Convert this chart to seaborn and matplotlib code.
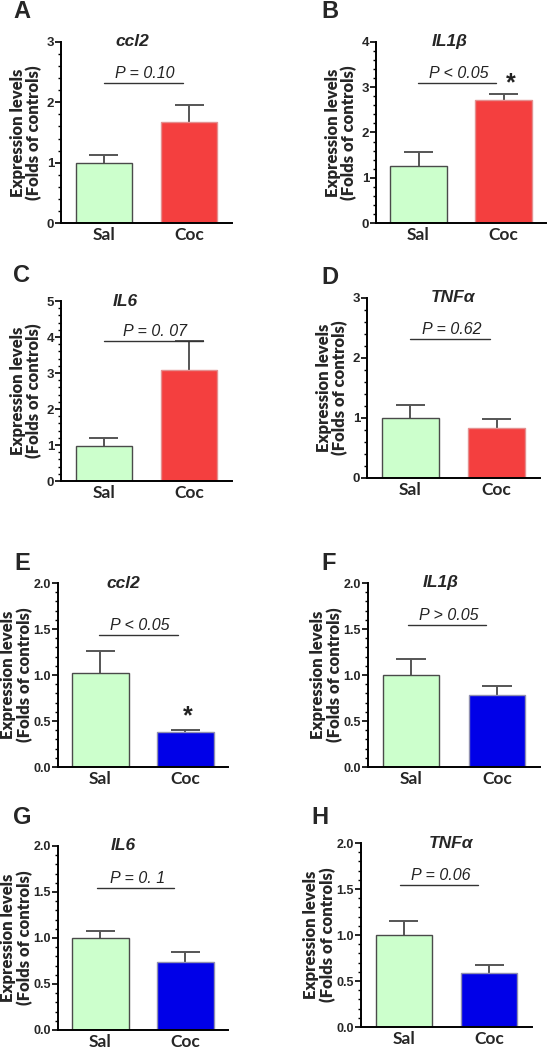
import matplotlib
matplotlib.use("Agg")
import matplotlib.pyplot as plt
from matplotlib.ticker import MultipleLocator, AutoMinorLocator, FormatStrFormatter
import seaborn as sns
import pandas as pd
import numpy as np

sns.set_theme(style="ticks")
plt.rcParams["font.family"] = ["Liberation Sans", "DejaVu Sans"]

# ---------------- data ----------------
groups = ["Sal", "Coc"]
panel_letters = ["A", "B", "C", "D", "E", "F", "G", "H"]
genes = ["ccl2", "IL1β", "IL6", "TNFα", "ccl2", "IL1β", "IL6", "TNFα"]

means_top = [[1.00, 1.67], [1.27, 2.72], [0.98, 3.09], [1.00, 0.84]]
sems_top = [[0.12, 0.29], [0.30, 0.13], [0.22, 0.80], [0.21, 0.15]]
means_bottom = [[1.02, 0.38], [1.00, 0.78], [1.00, 0.74], [1.00, 0.59]]
sems_bottom = [[0.24, 0.025], [0.17, 0.10], [0.08, 0.105], [0.15, 0.08]]

p_texts = ["P = 0.10", "P < 0.05", "P = 0. 07", "P = 0.62",
           "P < 0.05", "P > 0.05", "P = 0. 1", "P = 0.06"]
p_levels = [2.32, 3.09, 3.89, 2.31, 1.43, 1.54, 1.54, 1.54]
stars = [None, (1.08, 3.09), None, None, (1.03, 0.55), None, None, None]
y_max = [3, 4, 5, 3, 2.0, 2.0, 2.0, 2.0]
y_step = [1, 1, 1, 1, 0.5, 0.5, 0.5, 0.5]

# ---------------- layout (pixels) ----------------
W, H = 547, 1050
axes_px = [  # left, right, top, bottom
    (61, 232, 42, 223), (376, 546, 42, 223),
    (61, 232, 301, 481), (367, 540, 298, 478),
    (58, 228, 583, 767), (368, 540, 583, 767),
    (58, 228, 846, 1030), (361, 532, 843, 1027),
]
p_line_x = [(0.0, 0.93), (-0.01, 0.91), (0.0, 1.16), (0.0, 0.92),
            (-0.02, 0.91), (-0.035, 0.87), (-0.04, 0.87), (-0.04, 0.87)]
title_x = [0.34, 0.37, 0.25, 0.50, 0.27, 0.35, 0.27, 0.55]
letter_px = [(22, 12), (330, 12), (22, 275), (330, 277),
             (22, 563), (329, 563), (22, 818), (320, 818)]

sal_color = "#CCFFCC"
red_color = "#F43F3F"
blue_color = "#0000E8"
edge_colors_top = ["#4a4a4a", "#E49090"]
edge_colors_bottom = ["#4a4a4a", "#9090B0"]
cap_half = 0.17

fig = plt.figure(figsize=(W / 100, H / 100), dpi=100)

for i in range(8):
    l, r, t, b = axes_px[i]
    ax = fig.add_axes([l / W, 1 - b / H, (r - l) / W, (b - t) / H])
    top = i < 4
    means = np.array((means_top if top else means_bottom)[i % 4])
    sems = np.array((sems_top if top else sems_bottom)[i % 4])
    df = pd.DataFrame({"group": groups, "value": means})
    pal = {"Sal": sal_color, "Coc": red_color if top else blue_color}
    sns.barplot(data=df, x="group", y="value", hue="group", palette=pal,
                dodge=False, legend=False, width=0.66, ax=ax,
                saturation=1, zorder=2)
    ecs = edge_colors_top if top else edge_colors_bottom
    for patch, ec in zip(ax.patches, ecs):
        patch.set_edgecolor(ec)
        patch.set_linewidth(1.0)
    xs = np.arange(len(groups))
    ax.vlines(xs, means, means + sems, color="#555555", lw=1.4, zorder=1)
    ax.hlines(means + sems, xs - cap_half, xs + cap_half, color="#555555",
              lw=1.4, zorder=1)
    ax.set_xlim(-0.5, 1.5)
    ax.set_ylim(0, y_max[i])
    ax.yaxis.set_major_locator(MultipleLocator(y_step[i]))
    ax.yaxis.set_minor_locator(AutoMinorLocator(5))
    if not top:
        ax.yaxis.set_major_formatter(FormatStrFormatter("%.1f"))
    sns.despine(ax=ax)
    for sp in ["left", "bottom"]:
        ax.spines[sp].set_linewidth(1.4)
        ax.spines[sp].set_color("black")
    ax.tick_params(axis="y", which="major", length=4, width=1.2, pad=1,
                   labelsize=9.5 if top else 9, direction="out", color="black")
    ax.tick_params(axis="y", which="minor", length=2, width=1.0,
                   direction="out", color="black")
    ax.tick_params(axis="x", length=0, pad=3, labelsize=12.5)
    for lab in ax.get_yticklabels():
        lab.set_fontweight("bold")
    for lab in ax.get_xticklabels():
        lab.set_fontweight("bold")
        lab.set_family(["Lato", "DejaVu Sans"])
    ax.set_xlabel("")
    ax.set_ylabel("Expression levels\n(Folds of controls)", fontsize=12,
                  fontweight="heavy", linespacing=1.0,
                  labelpad=3 if top else 0.5,
                  family=["Lato", "DejaVu Sans"])
    # p-value line and text
    x0, x1 = p_line_x[i]
    yl = p_levels[i]
    ax.plot([x0, x1], [yl, yl], color="#333333", lw=1.0, zorder=3)
    ax.text((x0 + x1) / 2 + 0.02, yl + y_max[i] * 0.012, p_texts[i],
            ha="center", va="bottom", fontsize=11.5, style="italic",
            color="#222222")
    if stars[i] is not None:
        sx, sy = stars[i]
        ax.text(sx, sy, "*", ha="center", va="center", fontsize=18,
                fontweight="bold", color="#222222")
    ax.text(title_x[i], 1.0, genes[i], transform=ax.get_xaxis_transform(),
            ha="center", va="center", fontsize=12.5, style="italic",
            fontweight="bold")
    lx, ly = letter_px[i]
    fig.text(lx / W, 1 - ly / H, panel_letters[i], ha="center", va="center",
             fontsize=17, fontweight="bold")

fig.savefig("out.png", dpi=100)
